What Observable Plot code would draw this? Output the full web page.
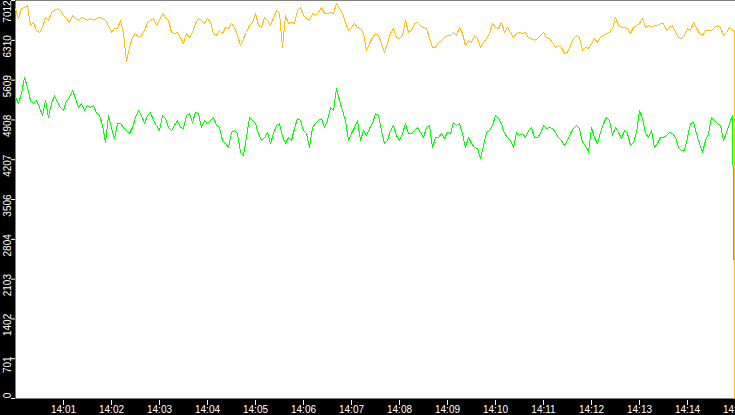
<!DOCTYPE html>
<html><head><meta charset="utf-8">
<script src="https://cdn.jsdelivr.net/npm/d3@7"></script>
<script src="https://cdn.jsdelivr.net/npm/@observablehq/plot@0.6"></script>
<style>
html,body{margin:0;padding:0;background:#000;overflow:hidden;}
#chart svg{display:block;}
</style></head><body><div id="chart"></div>
<script>
// Yellow series (one reading every 3.75 s from 14:00:00)
const yellowValues = [
6866,6695,6871,6889,6924,6572,6624,6483,6448,6536,6712,6660,6801,6836,6871,6836,6748,6695,6624,6748,6695,6660,6712,6695,6660,6695,6660,6695,6712,6695,6660,6572,6448,6519,6519,
6660,6431,5940,6184,6360,6431,6360,6395,6483,6624,6660,6695,6572,6660,6783,6712,6660,6448,6431,6448,6360,6254,6431,6360,6448,6607,6695,6660,6607,6695,6624,6431,6395,6483,6431,
6536,6519,6607,6536,6395,6219,6342,6448,6572,6624,6783,6572,6536,6712,6660,6572,6695,6836,6783,6184,6748,6607,6624,6607,6836,6889,6748,6695,6660,6783,6748,6801,6889,6783,6783,
6801,6783,6959,6871,6783,6624,6483,6536,6607,6536,6519,6431,6131,6254,6360,6431,6395,6254,6096,6254,6431,6519,6360,6342,6395,6660,6448,6483,6607,6624,6572,6536,6519,6342,6184,
6184,6272,6307,6360,6395,6395,6448,6395,6536,6431,6219,6307,6272,6395,6342,6184,6272,6342,6431,6607,6536,6519,6624,6448,6536,6448,6360,6431,6448,6431,6448,6360,6342,6307,6342,
6395,6448,6360,6342,6272,6184,6219,6184,6078,6096,6219,6342,6395,6360,6131,6184,6166,6254,6342,6272,6360,6395,6431,6448,6519,6712,6572,6536,6536,6519,6431,6536,6572,6607,6695,
6536,6572,6536,6572,6572,6607,6607,6483,6536,6572,6448,6360,6342,6395,6519,6483,6624,6536,6431,6395,6483,6483,6483,6536,6572,6536,6395,6448,6536,6483
];
// Green series, same sampling
const greenValues = [
5303,5197,5373,5655,5479,5250,5197,5250,5127,4986,5250,4950,5197,5338,5215,5127,5074,5250,5303,5426,5285,5127,5197,5074,5162,5127,5162,5021,4986,4810,4510,4986,4757,4580,4845,
4845,4774,4721,4669,4774,4950,5074,4986,4845,4986,5039,4898,4810,4721,4986,4933,4774,4721,4810,4898,4774,4757,4986,5021,4862,5039,5021,4774,4898,4845,4898,4950,4810,4774,4545,
4492,4422,4686,4721,4669,4334,4281,4598,4950,4898,4845,4669,4545,4598,4686,4492,4669,4810,4845,4633,4492,4598,4545,4757,4933,4898,4721,4669,4422,4774,4845,4898,4933,4774,4898,
5127,5074,5460,5250,5074,4898,4545,4669,4774,4898,4545,4721,4633,4757,4845,5021,4986,4721,4492,4545,4721,4810,4633,4545,4669,4845,4669,4669,4721,4774,4686,4598,4774,4810,4422,
4598,4598,4669,4580,4686,4669,4862,4810,4845,4669,4422,4598,4492,4422,4404,4228,4457,4686,4721,4810,4986,4933,4845,4669,4598,4545,4422,4686,4633,4669,4598,4721,4774,4598,4598,
4669,4810,4757,4774,4757,4686,4598,4545,4457,4545,4669,4757,4810,4757,4510,4457,4334,4774,4598,4492,4686,4845,4950,4898,4633,4774,4686,4580,4721,4669,4457,4510,4686,5074,4933,
4669,4598,4721,4422,4492,4598,4598,4633,4686,4669,4598,4422,4369,4369,4598,4845,4862,4669,4492,4334,4545,4669,4950,4898,4845,4810,4545,4686,4845,4986
];
// Final readings at the very end of the window (the drop)
const yellowTailValues = [6483, 0];
const yellowTailSeconds = [898.74, 898.75];
const greenTailValues = [3230, 2450];
const greenTailSeconds = [897.49, 897.5];

const yTicks = [0, 701, 1402, 2103, 2804, 3506, 4207, 4908, 5609, 6310, 7012];
const yMax = 7012;
const xTickMinutes = [1,2,3,4,5,6,7,8,9,10,11,12,13,14,15];
const stepSeconds = 3.75;
const spanSeconds = 900;

const startTime = new Date(2024, 0, 1, 14, 0, 0);
const toDate = s => new Date(startTime.getTime() + s * 1000);
const build = (vals, tailVals, tailSecs) =>
  vals.map((v, i) => ({time: toDate(i * stepSeconds), value: v}))
    .concat(tailVals.map((v, i) => ({time: toDate(tailSecs[i]), value: v})));
const yellowRows = build(yellowValues, yellowTailValues, yellowTailSeconds);
const greenRows = build(greenValues, greenTailValues, greenTailSeconds);
const xTicks = xTickMinutes.map(m => toDate(m * 60));

const labelOpts = {text: d => String(d), frameAnchor: "left", dx: -5, rotate: -90, textAnchor: "middle", lineAnchor: "bottom", fill: "#fff", fontSize: 10};

const chart = Plot.plot({
  width: 735,
  height: 415,
  marginLeft: 15,
  marginRight: 0,
  marginTop: 0,
  marginBottom: 17,
  style: {background: "#000", color: "#fff", fontFamily: "'Liberation Sans', Arial, sans-serif", fontSize: "10px"},
  x: {type: "time", domain: [toDate(0), toDate(spanSeconds)], label: null},
  y: {domain: [0, yMax], label: null},
  marks: [
    Plot.frame({fill: "#fff", stroke: "none"}),
    Plot.lineY(greenRows, {x: "time", y: "value", stroke: "#00ff00", strokeWidth: 1, shapeRendering: "crispEdges"}),
    Plot.lineY(yellowRows, {x: "time", y: "value", stroke: "#ffc000", strokeWidth: 1, shapeRendering: "crispEdges"}),
    Plot.axisX({ticks: xTicks, tickFormat: d3.timeFormat("%H:%M"), tickSize: 5, tickPadding: 0, dy: 2, color: "#fff", fontSize: 10, label: null}),
    Plot.axisY({ticks: yTicks, tickSize: 4, tickFormat: () => "", color: "#fff", label: null}),
    Plot.text(yTicks.filter(d => d > 0 && d < yMax), {...labelOpts, y: d => d, dy: 6}),
    Plot.text(yTicks.filter(d => d === yMax), {...labelOpts, y: d => d, dy: 11}),
    Plot.text(yTicks.filter(d => d === 0), {...labelOpts, y: d => d, dy: -3})
  ]
});
document.getElementById("chart").appendChild(chart);
</script>
</body></html>
